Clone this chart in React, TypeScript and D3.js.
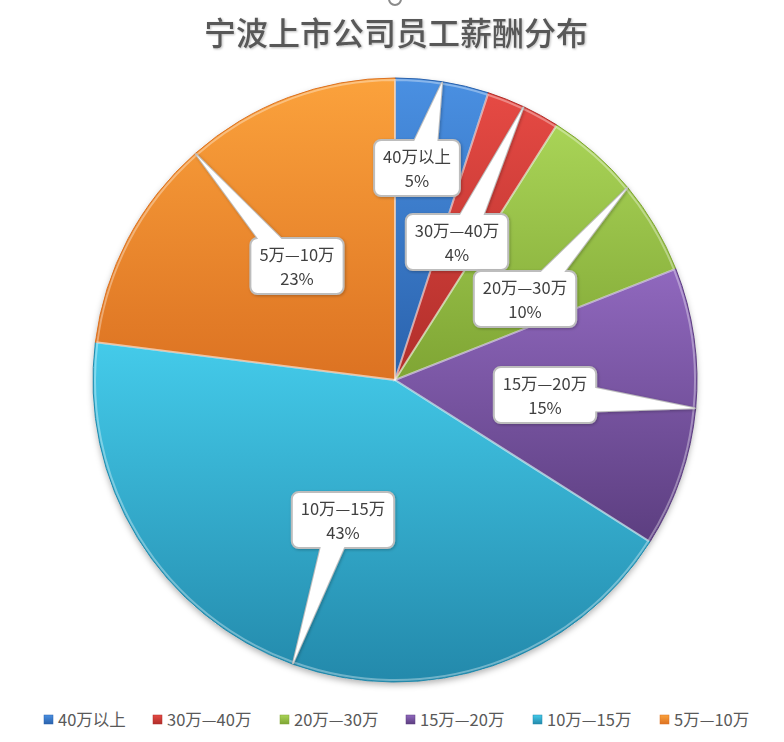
import React, { useEffect, useRef } from "react";
import * as d3 from "d3";

const title = "宁波上市公司员工薪酬分布";
const categories = ["40万以上", "30万—40万", "20万—30万", "15万—20万", "10万—15万", "5万—10万"];
const values = [5, 4, 10, 15, 43, 23];
const percentLabels = ["5%", "4%", "10%", "15%", "43%", "23%"];

// layout constants (not data)
const W = 784, H = 742;
const CX = 395, CY = 380, R = 302;
const colorsLight = ["#4a90e2", "#e64a44", "#a9d457", "#9068be", "#44cbea", "#fba23c"];
const colorsDark = ["#2a62ac", "#b02e2a", "#7fa534", "#5c3e80", "#2389ab", "#dc7222"];
// label box centre offsets from pie centre
const labelOffsets: [number, number][] = [
  [22, -212], [62, -138], [130, -81], [150, 15], [-52, 140], [-98, -114],
];
const legendX = [44, 153, 280, 406, 533, 660];

export default function App() {
  const ref = useRef<SVGSVGElement | null>(null);

  useEffect(() => {
    const svg = d3.select(ref.current);
    svg.selectAll("*").remove();
    const defs = svg.append("defs");

    const sh = defs.append("filter").attr("id", "pieShadow").attr("x", "-10%").attr("y", "-10%").attr("width", "120%").attr("height", "120%");
    sh.append("feDropShadow").attr("dx", 0).attr("dy", 3).attr("stdDeviation", 3).attr("flood-color", "#000").attr("flood-opacity", 0.3);
    const bs = defs.append("filter").attr("id", "boxShadow").attr("x", "-20%").attr("y", "-20%").attr("width", "140%").attr("height", "140%");
    bs.append("feDropShadow").attr("dx", 1).attr("dy", 1).attr("stdDeviation", 1.5).attr("flood-color", "#000").attr("flood-opacity", 0.25);
    const ts = defs.append("filter").attr("id", "titleShadow");
    ts.append("feDropShadow").attr("dx", 1).attr("dy", 1).attr("stdDeviation", 1).attr("flood-color", "#000").attr("flood-opacity", 0.25);

    categories.forEach((_, i) => {
      const g = defs.append("linearGradient").attr("id", "grad" + i)
        .attr("x1", 0).attr("x2", 0).attr("y1", 0).attr("y2", 1);
      g.append("stop").attr("offset", "0%").attr("stop-color", colorsLight[i]);
      g.append("stop").attr("offset", "100%").attr("stop-color", colorsDark[i]);
    });

    // handle circle at top
    svg.append("circle").attr("cx", 395).attr("cy", -1).attr("r", 6)
      .attr("fill", "none").attr("stroke", "#8a8a8a").attr("stroke-width", 2);

    // title
    svg.append("text").attr("x", 396).attr("y", 45).attr("text-anchor", "middle")
      .attr("font-family", "'Noto Sans CJK SC', sans-serif").attr("font-size", 32)
      .attr("font-weight", 500).attr("fill", "#595959").attr("filter", "url(#titleShadow)")
      .text(title);

    const pie = d3.pie<number>().sort(null).value((d) => d);
    const arcs = pie(values);
    const arc = d3.arc<d3.PieArcDatum<number>>().innerRadius(0).outerRadius(R);

    const pg = svg.append("g").attr("transform", `translate(${CX},${CY})`);
    pg.append("circle").attr("r", R).attr("fill", "#fff").attr("filter", "url(#pieShadow)");
    pg.selectAll("path.slice").data(arcs).enter().append("path")
      .attr("class", "slice")
      .attr("d", arc as any)
      .attr("fill", (_, i) => `url(#grad${i})`)
      .attr("stroke", (_, i) => colorsDark[i])
      .attr("stroke-width", 1);
    // bevel highlight
    const arcIn = d3.arc<d3.PieArcDatum<number>>().innerRadius(0).outerRadius(R - 2);
    pg.selectAll("path.bevel").data(arcs).enter().append("path")
      .attr("class", "bevel")
      .attr("d", arcIn as any)
      .attr("fill", "none")
      .attr("stroke", "#ffffff")
      .attr("stroke-opacity", 0.35)
      .attr("stroke-width", 2);

    // callouts
    const font = "'Noto Sans CJK SC', sans-serif";
    const fs = 16.5;
    arcs.forEach((a, i) => {
      const mid = (a.startAngle + a.endAngle) / 2;
      const tip: [number, number] = [CX + (R - 1) * Math.sin(mid), CY - (R - 1) * Math.cos(mid)];
      const bx = CX + labelOffsets[i][0];
      const by = CY + labelOffsets[i][1];
      const g = svg.append("g").attr("filter", "url(#boxShadow)");
      const t1 = g.append("text").attr("x", bx).attr("y", by - 6).attr("text-anchor", "middle")
        .attr("font-family", font).attr("font-size", fs).attr("fill", "#404040").text(categories[i]);
      const tw = (t1.node() as SVGTextElement).getComputedTextLength();
      t1.remove();
      const bw = tw + 18, bh = 56, rr = 7;
      const x0 = bx - bw / 2, y0 = by - bh / 2, x1 = bx + bw / 2, y1 = by + bh / 2;
      const dx = tip[0] - bx, dy = tip[1] - by;
      const sx = dx !== 0 ? (bw / 2) / Math.abs(dx) : Infinity;
      const sy = dy !== 0 ? (bh / 2) / Math.abs(dy) : Infinity;
      const hw = 12;
      let b1: [number, number], b2: [number, number];
      if (sy < sx) {
        let ex = bx + dx * sy;
        ex = Math.max(x0 + rr + hw, Math.min(x1 - rr - hw, ex));
        const ey = dy < 0 ? y0 + 3 : y1 - 3;
        b1 = [ex - hw, ey]; b2 = [ex + hw, ey];
      } else {
        let ey = by + dy * sx;
        ey = Math.max(y0 + rr + hw, Math.min(y1 - rr - hw, ey));
        const ex = dx < 0 ? x0 + 3 : x1 - 3;
        b1 = [ex, ey - hw]; b2 = [ex, ey + hw];
      }
      const tri = `M${b1[0]},${b1[1]}L${tip[0]},${tip[1]}L${b2[0]},${b2[1]}Z`;
      g.append("path").attr("d", tri).attr("fill", "#fff").attr("stroke", "#bdbdbd").attr("stroke-width", 2).attr("stroke-linejoin", "round");
      g.append("rect").attr("x", x0).attr("y", y0).attr("width", bw).attr("height", bh)
        .attr("rx", rr).attr("fill", "#fff").attr("stroke", "#bdbdbd").attr("stroke-width", 2);
      g.append("path").attr("d", tri).attr("fill", "#fff").attr("stroke", "none");
      g.append("text").attr("x", bx).attr("y", by - 5).attr("text-anchor", "middle")
        .attr("font-family", font).attr("font-size", fs).attr("fill", "#404040").text(categories[i]);
      g.append("text").attr("x", bx).attr("y", by + 19).attr("text-anchor", "middle")
        .attr("font-family", font).attr("font-size", fs).attr("fill", "#404040").text(percentLabels[i]);
    });

    // legend
    const lg = svg.append("g");
    categories.forEach((c, i) => {
      const x = legendX[i];
      lg.append("rect").attr("x", x).attr("y", 715).attr("width", 9).attr("height", 9)
        .attr("fill", `url(#grad${i})`).attr("stroke", colorsDark[i]).attr("stroke-width", 0.5);
      lg.append("text").attr("x", x + 14).attr("y", 726)
        .attr("font-family", font).attr("font-size", fs).attr("fill", "#595959").text(c);
    });
  }, []);

  return (
    <svg ref={ref} width={W} height={H}
      style={{ position: "absolute", left: 0, top: 0, background: "#fff" }} />
  );
}
